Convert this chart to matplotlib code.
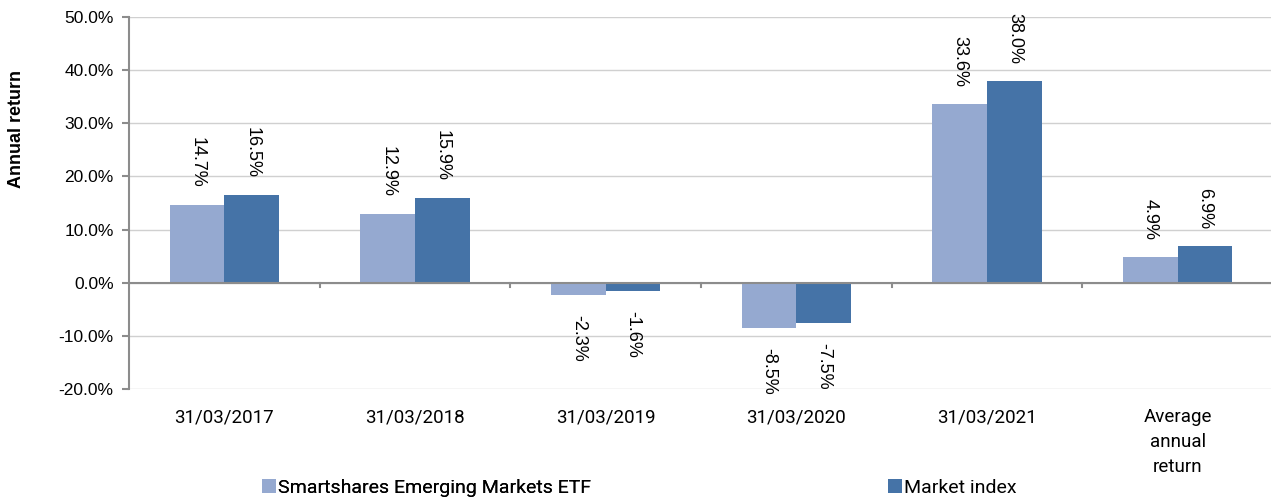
import matplotlib
matplotlib.use("Agg")
import matplotlib.pyplot as plt
import numpy as np
from matplotlib.ticker import FuncFormatter, FixedLocator

categories = ["31/03/2017", "31/03/2018", "31/03/2019", "31/03/2020", "31/03/2021", "Average\nannual\nreturn"]
etf = [14.7, 12.9, -2.3, -8.5, 33.6, 4.9]
index = [16.5, 15.9, -1.6, -7.5, 38.0, 6.9]
series_names = ["Smartshares Emerging Markets ETF", "Market index"]
colors = ["#95a9d0", "#4573a7"]

fig = plt.figure(figsize=(12.71, 5.0), dpi=100)
ax = fig.add_axes([129/1271, 1-389/500, (1273-129)/1271, (389-17)/500])

x = np.arange(len(categories))
w = 0.287
b1 = ax.bar(x - w/2, etf, w, color=colors[0], label=series_names[0], zorder=3)
b2 = ax.bar(x + w/2, index, w, color=colors[1], label=series_names[1], zorder=3)

ax.set_xlim(-0.5, len(categories) - 0.5)
ax.set_ylim(-20, 50)
ax.yaxis.set_major_locator(FixedLocator(np.arange(-20, 51, 10)))
ax.yaxis.set_major_formatter(FuncFormatter(lambda v, p: f"{v:.1f}%"))
ax.grid(axis="y", color="#d0d0d0", linewidth=1.0, zorder=0)
for s in ["top", "right", "bottom"]:
    ax.spines[s].set_visible(False)
ax.spines["left"].set_color("#8c8c8c")
ax.spines["left"].set_linewidth(1.5)
ax.tick_params(axis="y", length=5, color="#8c8c8c", width=1.5, labelsize=12.5, pad=6)
for lab in ax.get_yticklabels():
    lab.set_fontfamily("Liberation Sans")

# zero axis line with category-boundary ticks
ax.axhline(0, color="#8c8c8c", linewidth=1.5, zorder=4)
for bnd in np.arange(0.5, len(categories) - 0.5, 1):
    ax.plot([bnd, bnd], [0, -0.9], color="#8c8c8c", linewidth=1.5, zorder=4, clip_on=False)

ax.set_xticks(x)
ax.set_xticklabels(categories, fontfamily="Roboto", fontsize=13.5, linespacing=1.5, va="top")
ax.tick_params(axis="x", length=0, pad=14)

# data labels, rotated
for bars, vals in [(b1, etf), (b2, index)]:
    for rect, v in zip(bars, vals):
        cx = rect.get_x() + rect.get_width() / 2
        if v >= 0:
            ax.annotate(f"{v:.1f}%", (cx, v), xytext=(0, 17), textcoords="offset pixels",
                        rotation=270, ha="center", va="bottom", fontsize=13,
                        fontfamily="Liberation Sans", color="#000000", zorder=5)
        else:
            ax.annotate(f"{v:.1f}%", (cx, v), xytext=(0, -20), textcoords="offset pixels",
                        rotation=270, ha="center", va="top", fontsize=13,
                        fontfamily="Liberation Sans", color="#000000", zorder=5)

fig.text(17/1271, 1-128.5/500, "Annual return", rotation=90, ha="center", va="center",
         fontsize=13, fontweight="bold", fontfamily="Liberation Sans")

leg_kw = dict(loc="center left", frameon=False, handlelength=0.72, handleheight=0.72,
              handletextpad=0.12, borderaxespad=0, borderpad=0,
              prop={"family": "Roboto", "size": 14})
leg1 = fig.legend(handles=[b1], labels=[series_names[0]], bbox_to_anchor=(262/1271, 1-488/500), **leg_kw)
fig.add_artist(leg1)
leg2 = fig.legend(handles=[b2], labels=[series_names[1]], bbox_to_anchor=(888/1271, 1-488/500), **leg_kw)

fig.savefig("out.png", dpi=100)
